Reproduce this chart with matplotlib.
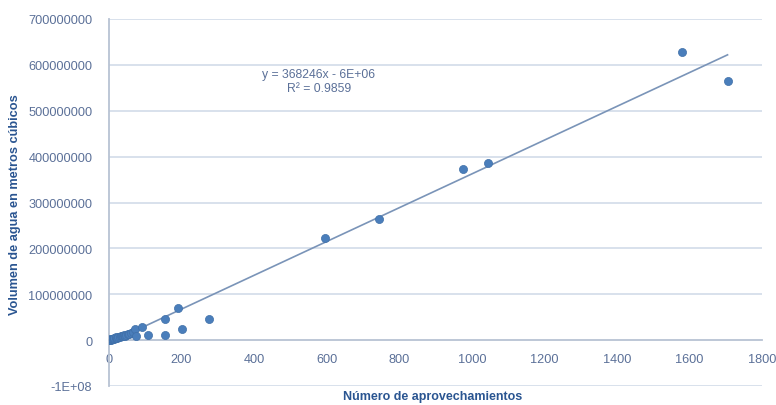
import matplotlib
matplotlib.use("Agg")
import matplotlib.pyplot as plt
import numpy as np

# Data
aprovechamientos = [0, 2, 3, 5, 7, 9, 11, 13, 15, 18, 20, 23, 26, 29, 32, 35, 38, 42, 45, 48, 52, 56, 60, 65,
                    72, 75, 91, 107, 153, 155, 189, 200, 277, 596, 745, 975, 1044, 1580, 1705]
volumen = [0.0e6, 0.5e6, 1.5e6, 1.0e6, 2.5e6, 2.0e6, 3.5e6, 3.0e6, 4.5e6, 4.0e6, 6.0e6, 5.5e6, 7.0e6, 6.0e6,
           8.0e6, 9.5e6, 8.5e6, 11e6, 10e6, 12e6, 14e6, 13e6, 16e6, 18e6,
           24e6, 9e6, 28e6, 12e6, 12e6, 46e6, 69e6, 25e6, 47e6, 222e6, 265e6, 373e6, 386e6, 628e6, 564e6]

slope = 368246
intercept = -6e6
equation_text = "y = 368246x - 6E+06\nR² = 0.9859"

x_ticks = [0, 200, 400, 600, 800, 1000, 1200, 1400, 1600, 1800]
y_ticks = [-1e8, 0, 1e8, 2e8, 3e8, 4e8, 5e8, 6e8, 7e8]
y_tick_labels = ["-1E+08", "0", "100000000", "200000000", "300000000", "400000000",
                 "500000000", "600000000", "700000000"]

x_label = "Número de aprovechamientos"
y_label = "Volumen de agua en metros cúbicos"

plt.rcParams['font.family'] = ['Liberation Sans', 'DejaVu Sans']

fig = plt.figure(figsize=(7.76, 4.06), dpi=100)
ax = fig.add_axes([109/776, 19/406, (762-109)/776, (387-20)/406])

tick_color = '#5b7098'
title_color = '#2a5591'
grid_color = '#d6deea'

ax.set_xlim(0, 1800)
ax.set_ylim(-1e8, 7e8)
ax.set_yticks(y_ticks)
ax.set_yticklabels(y_tick_labels)
ax.set_xticks(x_ticks)
ax.set_xticklabels([str(t) for t in x_ticks])

for y in y_ticks:
    if y != 0:
        ax.axhline(y, color=grid_color, lw=1.3, zorder=0)

ax.spines['top'].set_visible(False)
ax.spines['right'].set_visible(False)
ax.spines['bottom'].set_position(('data', 0))
ax.spines['bottom'].set_color('#b8c3d3')
ax.spines['left'].set_color('#b8c3d3')
ax.spines['bottom'].set_linewidth(1.3)
ax.spines['left'].set_linewidth(1.3)

ax.tick_params(axis='both', length=0, labelsize=9.2, labelcolor=tick_color)
ax.tick_params(axis='x', pad=9)
ax.tick_params(axis='y', pad=12)

xs = np.array([min(aprovechamientos), max(aprovechamientos)])
ax.plot(xs, slope * xs + intercept, color='#7a94b8', lw=1.2, zorder=2)
ax.scatter(aprovechamientos, volumen, s=34, color='#4a7ebb', edgecolors='#3f6fa8',
           linewidths=0.5, zorder=3)

ax.text(578, 5.65e8, equation_text, ha='center', va='center', fontsize=8.8,
        color=tick_color, linespacing=1.2)

fig.text(433/776, 1 - 397/406, x_label, ha='center', va='center', fontsize=9,
         fontweight='bold', color=title_color)
fig.text(15/776, 1 - 205/406, y_label, ha='center', va='center', rotation=90,
         fontsize=9.2, fontweight='bold', color=title_color)

fig.savefig("out.png", dpi=100, facecolor='white')
